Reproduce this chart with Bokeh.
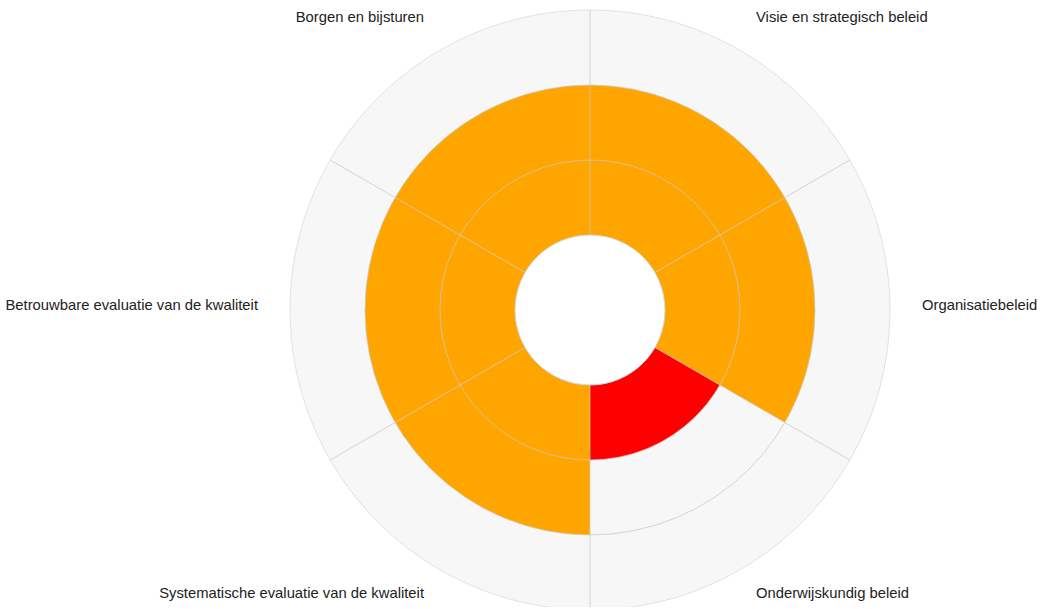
import math
from bokeh.plotting import figure
from bokeh.models import ColumnDataSource, Range1d
from bokeh.embed import file_html
from bokeh.resources import INLINE
from bokeh.core.properties import value

# ---- data ----
categories = [
    "Visie en strategisch beleid",
    "Organisatiebeleid",
    "Onderwijskundig beleid",
    "Systematische evaluatie van de kwaliteit",
    "Betrouwbare evaluatie van de kwaliteit",
    "Borgen en bijsturen",
]
scores = [2, 2, 1, 2, 2, 2]
max_score = 3
grid_levels = [1, 2, 3]

# ---- layout / style ----
W, H = 1040, 607
CX, CY = 589.5, 309.5      # centre in canvas px
UNIT = 75.0                # px per score unit
HOLE = 1.0                 # inner hole radius (score units)
LABEL_R = 332 / UNIT

def score_color(v):
    return "#FF0000" if v <= 1 else "#FFA500"

n = len(categories)
step = 2 * math.pi / n
starts = [math.pi / 2 - (i + 1) * step for i in range(n)]
ends = [math.pi / 2 - i * step for i in range(n)]
mids = [(s + e) / 2 for s, e in zip(starts, ends)]

p = figure(width=W, height=H, output_backend="svg", toolbar_location=None,
           x_range=Range1d(-CX / UNIT, (W - CX) / UNIT),
           y_range=Range1d(-(H - CY) / UNIT, CY / UNIT),
           min_border=0, tools="")
p.axis.visible = False
p.grid.visible = False
p.outline_line_color = None
p.background_fill_color = "white"
p.border_fill_color = "white"

# background bands (max value)
bg = ColumnDataSource(dict(start=starts, end=ends,
                           outer=[HOLE + max_score] * n))
p.annular_wedge(x=0, y=0, inner_radius=HOLE, outer_radius="outer",
                start_angle="start", end_angle="end", direction="anticlock",
                fill_color="#f7f7f7", line_color=None, source=bg)

# score bars
src = ColumnDataSource(dict(start=starts, end=ends,
                            outer=[HOLE + v for v in scores],
                            color=[score_color(v) for v in scores]))
p.annular_wedge(x=0, y=0, inner_radius=HOLE, outer_radius="outer",
                start_angle="start", end_angle="end", direction="anticlock",
                fill_color="color", line_color=None, source=src)

# grid circles
inner_levels = [HOLE + g for g in grid_levels[:-1]]
p.circle(x=[0] * len(inner_levels), y=[0] * len(inner_levels),
         radius=inner_levels, fill_color=None,
         line_color="#c8c8c8", line_alpha=0.75, line_width=1)
p.circle(x=[0], y=[0], radius=[HOLE + grid_levels[-1]], fill_color=None,
         line_color="#e2e2e2", line_width=1)

# spokes
p.ray(x=[0] * n, y=[0] * n, length=HOLE + max_score, length_units="data",
      angle=ends, line_color="#c8c8c8", line_alpha=0.75, line_width=1)

# centre hole
p.circle(x=[0], y=[0], radius=[HOLE], fill_color="white",
         line_color="#d0d0d0", line_width=1)

# labels
lx = [LABEL_R * math.cos(a) for a in mids]
ly = [LABEL_R * math.sin(a) for a in mids]
align = ["left" if x > 0 else "right" for x in lx]
lab = ColumnDataSource(dict(x=lx, y=ly, text=categories, align=align))
p.text(x="x", y="y", text="text", source=lab, text_align="align",
       text_baseline="middle", y_offset=-5,
       text_font=value("Liberation Sans"), text_font_size="14.8px",
       text_color="#222222")

open("out.html", "w").write(file_html(p, INLINE))
